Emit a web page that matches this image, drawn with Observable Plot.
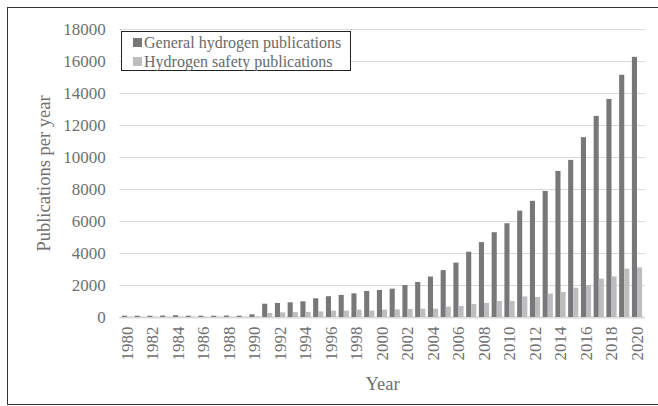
<!DOCTYPE html>
<html><head><meta charset="utf-8">
<script src="https://cdn.jsdelivr.net/npm/d3@7"></script>
<script src="https://cdn.jsdelivr.net/npm/@observablehq/plot@0.6"></script>
<style>
body{margin:0;background:#fff;}
#wrap{position:relative;width:658px;height:406px;overflow:hidden;font-family:"Liberation Serif","Times New Roman",serif;}
#chart svg, #chart svg text{font-family:"Liberation Serif","Times New Roman",serif;}
#border{position:absolute;left:7px;top:7px;width:670px;height:398px;border:1.5px solid #333;box-sizing:border-box;pointer-events:none;}
#legend{position:absolute;left:121px;top:31px;width:230px;height:40px;border:1px solid #222;background:#fff;box-sizing:border-box;font-size:16px;color:#6a6a6a;line-height:19px;padding-top:1px;}
#legend div{display:flex;align-items:center;padding-left:11px;white-space:nowrap;}
#legend span.sw{display:inline-block;width:9px;height:9px;margin-right:2px;}
</style></head>
<body>
<div id="wrap"><div id="chart"></div><div id="border"></div><div id="legend"></div></div>
<script>
const years = [1980,1981,1982,1983,1984,1985,1986,1987,1988,1989,1990,1991,1992,1993,1994,1995,1996,1997,1998,1999,2000,2001,2002,2003,2004,2005,2006,2007,2008,2009,2010,2011,2012,2013,2014,2015,2016,2017,2018,2019,2020];
const general = [80,80,80,90,110,80,80,80,90,80,170,830,880,920,980,1170,1300,1380,1480,1630,1690,1770,2000,2190,2530,2930,3400,4080,4680,5300,5860,6650,7260,7880,9130,9820,11240,12570,13630,15140,16260];
const safety = [20,20,20,20,30,20,20,20,20,20,40,250,290,310,320,350,400,400,460,400,460,480,500,520,520,650,690,810,880,1000,1000,1290,1250,1460,1560,1830,1980,2400,2540,3020,3100];
const seriesNames = ["General hydrogen publications","Hydrogen safety publications"];
const seriesColors = ["#77787a","#bdbdbf"];
const yTicks = [0,2000,4000,6000,8000,10000,12000,14000,16000,18000];
const xTicks = [1980,1982,1984,1986,1988,1990,1992,1994,1996,1998,2000,2002,2004,2006,2008,2010,2012,2014,2016,2018,2020];

const genData = years.map((y,i)=>({year:y, value:general[i]}));
const safData = years.map((y,i)=>({year:y, value:safety[i]}));
const serif = "Liberation Serif";

const plot = Plot.plot({
  width:658, height:406,
  marginLeft:119.35, marginRight:13.35, marginTop:29, marginBottom:89,
  style:{fontFamily:serif, fontSize:"17px", color:"#707070", background:"#fff"},
  x:{type:"band", domain:years, padding:0.2},
  y:{domain:[0,18000]},
  marks:[
    Plot.gridY(yTicks,{stroke:"#d9d9d9", strokeOpacity:1, strokeWidth:1.2}),
    Plot.ruleY([0],{stroke:"#d9d9d9", strokeWidth:2}),
    Plot.barY(genData,{x:"year", y:"value", fill:seriesColors[0], insetRight:5.1}),
    Plot.barY(safData,{x:"year", y:"value", fill:seriesColors[1], insetLeft:5.1}),
    Plot.axisY({ticks:yTicks, tickSize:0, tickPadding:14, tickFormat:d=>String(d), label:null, fontSize:17, fontFamily:serif}),
    Plot.axisY({ticks:[], tickSize:0, label:"Publications per year", labelAnchor:"center", labelArrow:"none", labelOffset:83, fontSize:18.5, fontFamily:serif}),
    Plot.axisX({ticks:xTicks, tickSize:0, tickPadding:9, tickRotate:-90, tickFormat:d=>String(d), label:null, fontSize:17, fontFamily:serif}),
    Plot.axisX({ticks:[], tickSize:0, label:"Year", labelAnchor:"center", labelArrow:"none", labelOffset:72, fontSize:18.5, fontFamily:serif})
  ]
});
document.getElementById("chart").appendChild(plot);

const leg = document.getElementById("legend");
seriesNames.forEach((n,i)=>{
  const row=document.createElement("div");
  const sw=document.createElement("span"); sw.className="sw"; sw.style.background=seriesColors[i];
  row.appendChild(sw); row.appendChild(document.createTextNode(n));
  leg.appendChild(row);
});
</script>
</body></html>
